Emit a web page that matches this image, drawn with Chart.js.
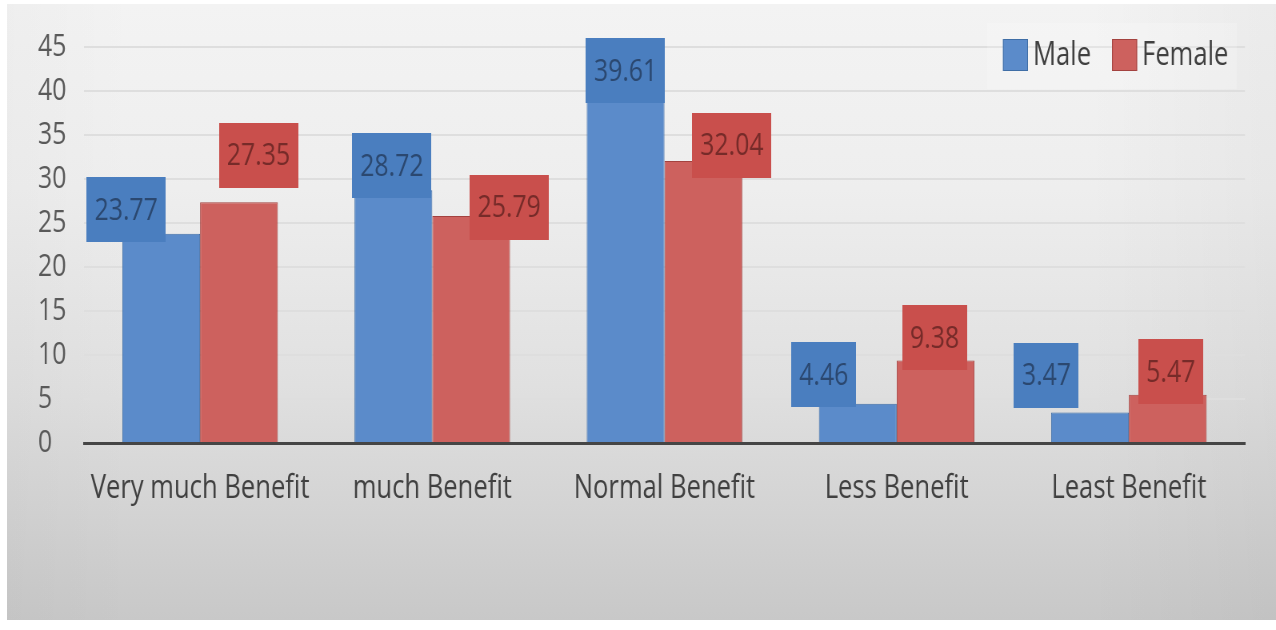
<!DOCTYPE html>
<html>
<head>
<meta charset="utf-8">
<script src="https://cdn.jsdelivr.net/npm/chart.js@4.4.1/dist/chart.umd.min.js"></script>
<style>
  html, body { margin: 0; padding: 0; background: #ffffff; }
  #wrap { position: relative; width: 1276px; height: 630px; overflow: hidden; }
  #bg { position: absolute; left: 7px; top: 4px; width: 1269px; height: 616px;
        background: linear-gradient(to bottom, #f3f3f3 0%, #eeeeee 30%, #e0e0e0 62%, #c8c8c8 100%); }
  #bg2 { position: absolute; left: 7px; top: 4px; width: 1269px; height: 616px;
        background: linear-gradient(to right, rgba(0,0,0,0.02) 0%, rgba(0,0,0,0) 10%, rgba(0,0,0,0) 85%, rgba(0,0,0,0.03) 100%); }
  #c { position: absolute; left: 0; top: 0; transform-origin: 0 0; }
</style>
</head>
<body>
<div id="wrap">
  <div id="bg"></div>
  <div id="bg2"></div>
  <canvas id="c" width="1595" height="630"></canvas>
</div>
<script>
// ---- data ----
const categories = ['Very much Benefit', 'much Benefit', 'Normal Benefit', 'Less Benefit', 'Least Benefit'];
const maleValues = [23.77, 28.72, 39.61, 4.46, 3.47];
const femaleValues = [27.35, 25.79, 32.04, 9.38, 5.47];
const seriesNames = ['Male', 'Female'];
const yMin = 0, yMax = 45, yStep = 5;

// ---- styles ----
// The reference's text is horizontally condensed; the canvas is drawn wider and squeezed by SX.
const SX = 0.8;
const FONT = "'Open Sans', 'Noto Sans', sans-serif";
const barFill = ['#5b8bca', '#cd615e'];
const barBorder = ['#3f6ea6', '#a3423f'];
const boxFill = ['#4a7ebf', '#c94f4c'];
const boxText = ['#2b4870', '#762b29'];
// label box nudges in screen px (relative to bar top centre), per series per category
const labelNudge = [
  [[-35, -24], [-1.5, -24.5], [0, -23.5], [-34, -29], [-43.5, -37]],
  [[19.5, -47], [38, -9], [28.5, -15.5], [-1, -22.5], [3, -23]]
];

const canvas = document.getElementById('c');
canvas.style.transform = 'scaleX(' + SX + ')';

const labelBoxes = {
  id: 'labelBoxes',
  afterDatasetsDraw(chart) {
    const ctx = chart.ctx;
    ctx.save();
    ctx.font = '31px ' + FONT;
    ctx.textAlign = 'center';
    ctx.textBaseline = 'middle';
    chart.data.datasets.forEach((ds, di) => {
      const meta = chart.getDatasetMeta(di);
      meta.data.forEach((el, i) => {
        const txt = ds.data[i].toFixed(2);
        const w = ctx.measureText(txt).width + 16 / SX;
        const h = 65;
        const cx = el.x + labelNudge[di][i][0] / SX;
        const cy = el.y + labelNudge[di][i][1];
        ctx.fillStyle = boxFill[di];
        ctx.fillRect(Math.round(cx - w / 2), Math.round(cy - h / 2), Math.round(w), h);
        ctx.fillStyle = boxText[di];
        ctx.fillText(txt, cx, cy + 1);
      });
    });
    ctx.restore();
  }
};

const customLegend = {
  id: 'customLegend',
  afterDraw(chart) {
    const ctx = chart.ctx;
    const area = chart.chartArea;
    ctx.save();
    ctx.fillStyle = 'rgba(255,255,255,0.2)';
    ctx.fillRect(area.right - 258 / SX, area.top - 24, 250 / SX, 66);
    ctx.font = '32px ' + FONT;
    ctx.textBaseline = 'middle';
    ctx.textAlign = 'left';
    let x = area.right - 242 / SX;
    const yc = area.top + 8;
    const bw = 25 / SX;
    seriesNames.forEach((name, i) => {
      ctx.fillStyle = barFill[i];
      ctx.fillRect(x, yc - 16, bw, 32);
      ctx.strokeStyle = barBorder[i];
      ctx.lineWidth = 1;
      ctx.strokeRect(x + 0.5, yc - 15.5, bw - 1, 31);
      ctx.fillStyle = '#404040';
      ctx.fillText(name, x + bw + 5 / SX, yc + 1);
      x += bw + 5 / SX + ctx.measureText(name).width + 21 / SX;
    });
    ctx.restore();
  }
};

new Chart(canvas, {
  type: 'bar',
  data: {
    labels: categories,
    datasets: [
      { label: seriesNames[0], data: maleValues, backgroundColor: barFill[0], borderColor: barBorder[0], borderWidth: 1 },
      { label: seriesNames[1], data: femaleValues, backgroundColor: barFill[1], borderColor: barBorder[1], borderWidth: 1 }
    ]
  },
  options: {
    responsive: false,
    animation: false,
    devicePixelRatio: 1,
    layout: { padding: { left: 38 / SX, right: 1595 - 1245 / SX, top: 47, bottom: 0 } },
    datasets: { bar: { categoryPercentage: 0.67, barPercentage: 1.0 } },
    plugins: {
      legend: { display: false },
      tooltip: { enabled: false }
    },
    scales: {
      x: {
        grid: { display: false, drawTicks: false },
        border: { display: true, color: '#454545', width: 3 },
        ticks: { color: '#404040', font: { family: FONT, size: 32 }, padding: 27, maxRotation: 0, autoSkip: false },
        afterFit(s) { s.height = 630 - 443; }
      },
      y: {
        min: yMin, max: yMax,
        grid: { color: '#dedede', lineWidth: 2, drawTicks: false },
        border: { display: false },
        ticks: { stepSize: yStep, color: '#595959', font: { family: FONT, size: 31 }, padding: 17, crossAlign: 'far' },
        afterFit(s) { s.width = (84 - 38) / SX; }
      }
    }
  },
  plugins: [labelBoxes, customLegend]
});
</script>
</body>
</html>
